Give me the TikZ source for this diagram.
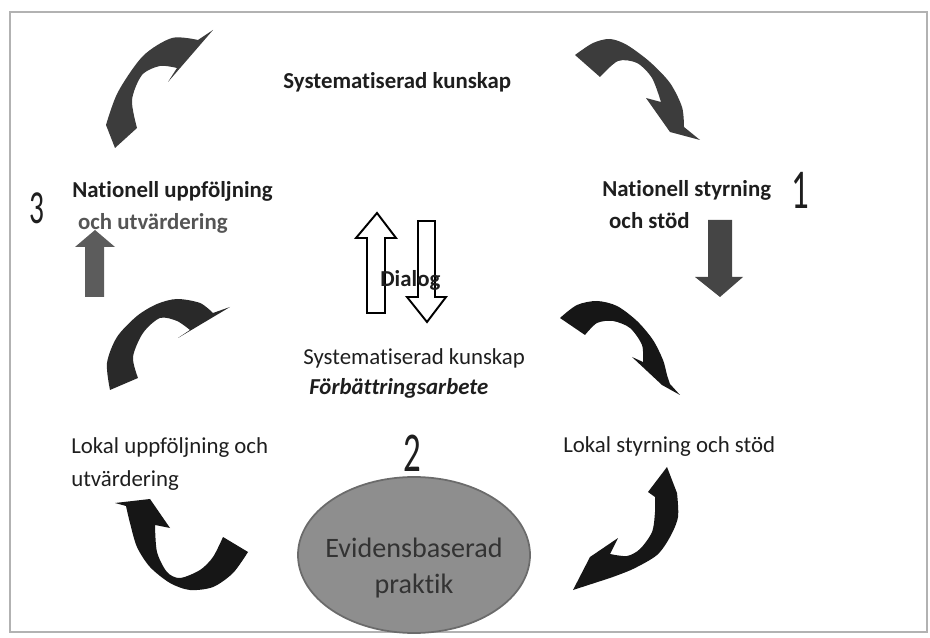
\documentclass[tikz,border=0pt]{standalone}
\usepackage{fontspec}
\setmainfont{Carlito}[Ligatures=NoCommon]
\usetikzlibrary{positioning}

\definecolor{txtdark}{HTML}{1E1E1E}
\definecolor{txtgray}{HTML}{555555}
\definecolor{arrgray}{HTML}{3C3C3C}
\definecolor{arrblack}{HTML}{161616}
\definecolor{ellfill}{HTML}{8E8E8E}

\begin{document}
\begin{tikzpicture}[x=0.02cm, y=-0.02cm,
    font=\fontsize{13}{18.5}\selectfont,
    lbl/.style={inner sep=0pt, text=txtdark, align=left},
    boldlbl/.style={lbl, font=\fontsize{13}{18.5}\selectfont\bfseries},
    num/.style={inner sep=0pt, text=txtdark},
    hollow/.style={draw=black, line width=1.1pt, fill=white, line join=miter}]
    \useasboundingbox (0,0) rectangle (930,638);
    \draw[gray!60, line width=0.8pt] (10,12) rectangle (927,632);

    % labels round the cycle
    \node[boldlbl, anchor=base west] (sys-top) at (283,89) {Systematiserad kunskap};
    \node[boldlbl, anchor=base west] (nat-uppf) at (72,230)
      {Nationell uppföljning\\{\color{txtgray}\hspace{0.25em}och utvärdering}};
    \node[boldlbl, anchor=base west] (nat-styr) at (602,229)
      {Nationell styrning\\\hspace{0.3em}och stöd};
    \node[lbl, anchor=base west] (lok-uppf) at (71,486) {Lokal uppföljning och\\utvärdering};
    \node[lbl, anchor=base west] (lok-styr) at (563,453) {Lokal styrning och stöd};

    \node[num, anchor=base, font=\fontsize{27}{30}\selectfont] (num3) at (37,224) {\scalebox{0.62}[1]{3}};
    \node[num, anchor=base, font=\fontsize{32}{34}\selectfont] (num1) at (800,209) {\scalebox{0.62}[1]{1}};

    % centre
    \fill[hollow] (367,313) -- (385,313) -- (385,238) -- (396,238) -- (377,213)
      -- (356,238) -- (367,238) -- cycle;
    \fill[hollow] (418,221) -- (435,221) -- (435,297) -- (446,297) -- (427,322)
      -- (407,297) -- (418,297) -- cycle;
    \node[boldlbl, anchor=base west] (dialog) at (380,287) {Dialog};
    \node[lbl, anchor=base west] (sys-mid) at (303,365) {Systematiserad kunskap};
    \node[lbl, anchor=base west, font=\fontsize{13}{18.5}\selectfont\bfseries\itshape] (forb) at (309,395) {Förbättringsarbete};

    \draw[ellfill!75!black, fill=ellfill, line width=1pt] (414,555) ellipse [x radius=116, y radius=78];
    \node[inner sep=0pt, align=center, text=black!80, font=\fontsize{16}{20}\selectfont] (evid) at (414,568)
      {Evidensbaserad\\praktik};
    \node[num, anchor=base, font=\fontsize{32}{34}\selectfont] (num2) at (412,472) {\scalebox{0.62}[1]{2}};

    % straight arrows
    \fill[black!73] (708,220) -- (732,220) -- (732,277) -- (743,277) -- (720,297)
      -- (695,277) -- (708,277) -- cycle;
    \fill[black!64] (85,297) -- (104,297) -- (104,247) -- (115,247) -- (95,230)
      -- (75,247) -- (85,247) -- cycle;

    % curved arrows
    \fill[arrgray] (115,148) -- (137,128)
      -- plot[smooth] coordinates {(137,128) (132,100) (142,75) (160,66) (177,68)}
      -- (168,82) -- (213,30) -- (198,40)
      -- plot[smooth] coordinates {(198,40) (172,38) (143,56) (118,92) (106,125)} -- cycle;
    \fill[arrgray] (575,55) -- (600,77)
      -- plot[smooth] coordinates {(600,77) (618,61) (637,63) (652,78) (661,102)}
      -- (646,98) -- (670,132) -- (700,140) -- (684,127)
      -- plot[smooth] coordinates {(684,127) (682,107) (670,83) (650,62) (627,45) (610,39) (593,43) (575,55)} -- cycle;
    \fill[arrblack!92!white] (110,390) -- (138,378)
      -- plot[smooth] coordinates {(138,378) (133,357) (143,333) (160,318) (177,321) (190,330)}
      -- (178,338) -- (230,307) -- (213,313)
      -- plot[smooth] coordinates {(213,313) (200,303) (177,299) (157,304) (137,316) (117,337) (107,363) (110,390)} -- cycle;
    \fill[arrblack] (560,318) -- (585,335)
      -- plot[smooth] coordinates {(585,335) (597,323) (613,321) (630,328) (642,345) (643,362)}
      -- (632,357) -- (662,385) -- (680,395) -- (670,384)
      -- plot[smooth] coordinates {(670,384) (667,375) (663,360) (653,340) (637,321) (617,306) (597,301) (577,305) (560,318)} -- cycle;
    \fill[arrblack] (223,537) -- (248,552)
      -- plot[smooth] coordinates {(248,552) (233,573) (213,587) (190,590) (170,583) (150,567) (137,547) (130,523) (126,506)}
      -- (115,503) -- (150,499) -- (170,528) -- (155,525)
      -- plot[smooth] coordinates {(155,525) (157,552) (167,572) (180,578) (200,570) (213,557) (223,537)} -- cycle;
    \fill[arrblack] (667,467) -- (677,493)
      -- plot[smooth] coordinates {(677,493) (678,517) (670,537) (657,555) (633,569) (610,578)}
      -- (573,590) -- (590,557) -- (618,538) -- (610,554)
      -- plot[smooth] coordinates {(610,554) (627,556) (640,549) (652,532) (655,512) (655,497)}
      -- (648,492) -- cycle;
\end{tikzpicture}
\end{document}
